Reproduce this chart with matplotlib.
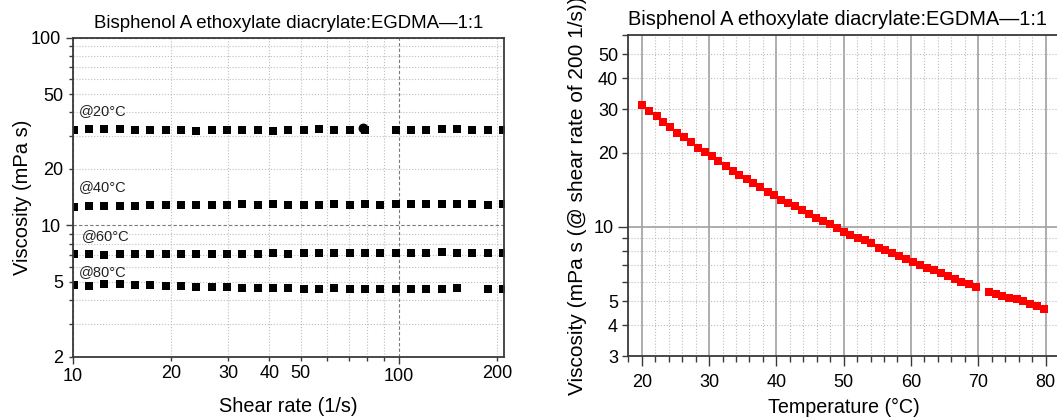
import numpy as np
import matplotlib as mpl
mpl.use('Agg')
import matplotlib.pyplot as plt
from matplotlib.ticker import FuncFormatter, MultipleLocator

# data
# ------------------------

nan = np.nan

shear_rate = [10.07, 11.22, 12.50, 13.93, 15.52, 17.29, 19.27, 21.47, 23.92, 26.65,
              29.70, 33.09, 36.87, 41.07, 45.76, 50.99, 56.80, 63.29, 70.51, 78.56,
              87.52, 97.52, 108.6, 121.1, 134.9, 150.3, 167.4, 186.6, 207.9]

visc_20C = [32.2, 32.5, 32.5, 32.6, 32.35, 32.2, 32.1, 32.1, 31.95, 32.2,
            32.35, 32.2, 32.1, 31.95, 32.1, 32.2, 32.5, 32.2, 32.1, 32.2,
            nan, 32.1, 32.35, 32.35, 32.75, 32.6, 32.35, 32.1, 32.1]
visc_40C = [12.57, 12.62, 12.72, 12.72, 12.67, 12.78, 12.78, 12.88, 12.88, 12.88,
            12.88, 12.93, 12.88, 12.93, 12.88, 12.9, 12.9, 12.93, 12.9, 12.93,
            12.9, 12.93, 12.93, 12.97, 12.93, 12.93, 12.93, 12.9, 12.93]
visc_60C = [7.06, 7.01, 6.95, 7.06, 7.03, 7.06, 7.06, 7.06, 7.06, 7.08,
            7.08, 7.08, 7.08, 7.12, 7.08, 7.1, 7.1, 7.12, 7.1, 7.12,
            7.15, 7.15, 7.15, 7.15, 7.18, 7.15, 7.15, 7.12, 7.15]
visc_80C = [4.83, 4.77, 4.85, 4.87, 4.81, 4.79, 4.75, 4.77, 4.71, 4.71,
            4.69, 4.65, 4.67, 4.67, 4.67, 4.61, 4.61, 4.63, 4.61, 4.61,
            4.61, 4.61, 4.61, 4.61, 4.61, 4.65, nan, 4.56, 4.59]
# repeated reading near 78 1/s at 20 C
extra_20C_rate = [77.6]
extra_20C_visc = [33.0]

series_labels = ['@20°C', '@40°C', '@60°C', '@80°C']

temperature = [20.1, 21.1, 22.2, 23.2, 24.2, 25.3, 26.3, 27.3, 28.4, 29.4,
               30.4, 31.4, 32.5, 33.5, 34.5, 35.6, 36.6, 37.6, 38.7, 39.7,
               40.7, 41.8, 42.8, 43.8, 44.8, 45.9, 46.9, 47.9, 49.0, 50.0,
               51.0, 52.1, 53.1, 54.1, 55.2, 56.2, 57.2, 58.2, 59.3, 60.3,
               61.3, 62.4, 63.4, 64.4, 65.5, 66.5, 67.5, 68.6, 69.6,
               71.6, 72.6, 73.6, 74.6, 75.7, 76.7, 77.7, 78.7, 79.8]
visc_200 = [31.2, 29.5, 28.1, 26.6, 25.4, 24.0, 23.1, 22.0, 20.9, 20.05,
            19.3, 18.4, 17.7, 16.9, 16.2, 15.65, 15.0, 14.5, 13.9, 13.5,
            12.85, 12.5, 12.1, 11.7, 11.25, 10.85, 10.55, 10.3, 9.94, 9.54,
            9.28, 9.02, 8.82, 8.6, 8.21, 8.03, 7.81, 7.64, 7.38, 7.22,
            7.0, 6.8, 6.7, 6.49, 6.35, 6.17, 5.98, 5.85, 5.69,
            5.43, 5.35, 5.25, 5.15, 5.12, 4.99, 4.87, 4.76, 4.67]

title = 'Bisphenol A ethoxylate diacrylate:EGDMA\u20141:1'

left_xlabels = [10, 20, 30, 40, 50, 100, 200]
left_ylabels = [2, 5, 10, 20, 50, 100]
right_ylabels = [3, 4, 5, 10, 20, 30, 40, 50]

# style
# -----

plt.rcParams['font.family'] = ['Liberation Sans', 'DejaVu Sans']
spine_c = '#3a3a3a'
grid_c = '#bdbdbd'
major_c = '#7a7a7a'
ms = 5.8


def label_some(keep):
    return FuncFormatter(lambda v, p: '%g' % v if round(v, 6) in keep else '')


fig = plt.figure(figsize=(10.57, 4.18), dpi=100)
fig.patch.set_facecolor('white')

# left: viscosity vs shear rate
# -----------------------------

ax = fig.add_axes([0.0688, 0.1467, 0.4083, 0.7632])
ax.set_xscale('log')
ax.set_yscale('log')

for vals in [visc_20C, visc_40C, visc_60C, visc_80C]:
    ax.plot(shear_rate, vals, 's', color='black', markersize=ms, markeredgewidth=0)
ax.plot(extra_20C_rate, extra_20C_visc, 'o', color='black', markersize=ms + 0.3)

ax.set_xlim(10, 210)
ax.set_ylim(2, 100)

ax.xaxis.set_major_formatter(label_some(left_xlabels))
ax.xaxis.set_minor_formatter(label_some(left_xlabels))
ax.yaxis.set_major_formatter(label_some(left_ylabels))
ax.yaxis.set_minor_formatter(label_some(left_ylabels))

ax.tick_params(which='both', direction='out', labelsize=13, color=spine_c, width=1)
ax.tick_params(which='major', length=5)
ax.tick_params(which='minor', length=3.2)
ax.tick_params(axis='x', which='both', pad=3)

ax.grid(which='minor', linestyle=':', color=grid_c, linewidth=0.8)
ax.grid(which='major', linestyle=(0, (3, 2)), color=major_c, linewidth=0.8)
ax.set_axisbelow(True)

for s in ax.spines.values():
    s.set_color(spine_c)
    s.set_linewidth(1.3)

label_pos = [(10.43, 40.8), (10.43, 15.95), (10.63, 8.8), (10.43, 5.66)]
for (lx, ly), txt in zip(label_pos, series_labels):
    ax.text(lx, ly, txt, fontsize=10.5, ha='left', va='center', color='#222222')

ax.set_title(title, fontsize=13.4, pad=7)
ax.set_xlabel('Shear rate (1/s)', fontsize=14.3, labelpad=9)
ax.set_ylabel('Viscosity (mPa s)', fontsize=14.5, labelpad=-1)

# right: viscosity at 200 1/s vs temperature
# ------------------------------------------

ax2 = fig.add_axes([0.5944, 0.1483, 0.4075, 0.7687])
ax2.set_yscale('log')

ax2.plot(temperature, visc_200, 's', color='#ff0000', markersize=ms, markeredgewidth=0)

ax2.set_xlim(18, 82)
ax2.set_ylim(3, 60)

ax2.xaxis.set_major_locator(MultipleLocator(10))
ax2.xaxis.set_minor_locator(MultipleLocator(2))
ax2.yaxis.set_major_formatter(label_some(right_ylabels))
ax2.yaxis.set_minor_formatter(label_some(right_ylabels))

ax2.tick_params(which='both', direction='out', labelsize=13, color=spine_c, width=1)
ax2.tick_params(which='major', length=7)
ax2.tick_params(which='minor', length=4)
ax2.tick_params(axis='x', which='both', pad=6)

ax2.grid(which='minor', linestyle=':', color=grid_c, linewidth=0.8)
ax2.grid(which='major', linestyle='-', color='#a0a0a0', linewidth=1.2)
ax2.set_axisbelow(True)

for s in ax2.spines.values():
    s.set_color(spine_c)
    s.set_linewidth(1.3)

ax2.set_title(title, fontsize=14.4, loc='left', pad=7)
ax2.set_xlabel('Temperature (°C)', fontsize=14.2, labelpad=5)
ax2.set_ylabel('Viscosity (mPa s (@ shear rate of 200 1/s))', fontsize=15, labelpad=4.5)

fig.savefig('out.png', dpi=100)
